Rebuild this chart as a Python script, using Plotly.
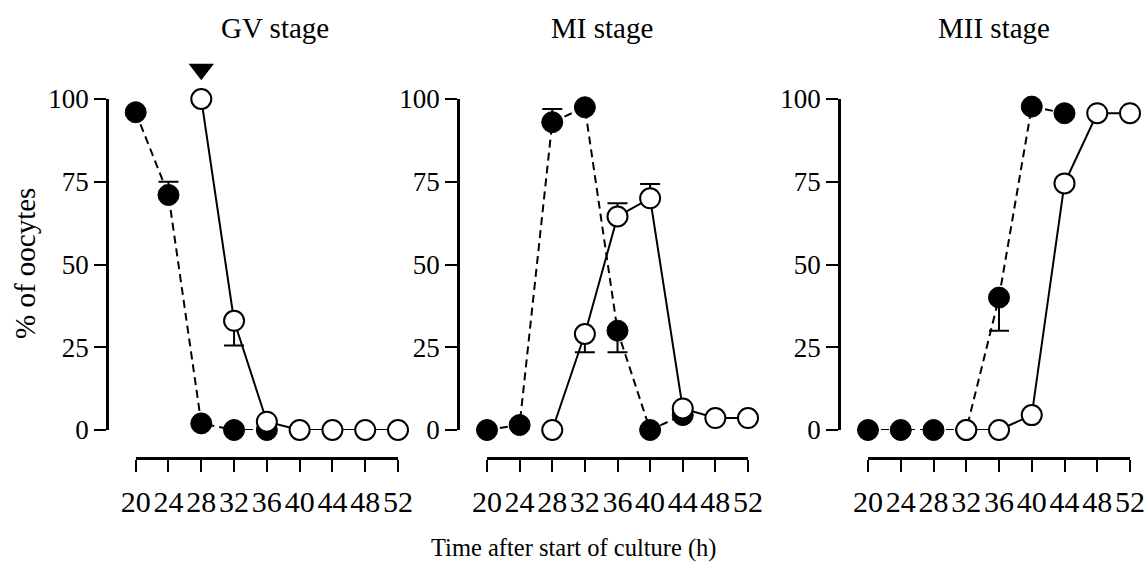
import plotly.graph_objects as go

W, H = 1148, 566

# ---------------- data ----------------
hours = [20, 24, 28, 32, 36, 40, 44, 48, 52]
y_ticks = [0, 25, 50, 75, 100]
panel_titles = ["GV stage", "MI stage", "MII stage"]
y_title = "% of oocytes"
x_title = "Time after start of culture (h)"

# GV stage
gv_filled_x = [20, 24, 28, 32, 36]
gv_filled_y = [96, 71, 2, 0, 0]
gv_filled_err_plus = [0, 4, 0, 0, 0]
gv_filled_err_minus = [0, 0, 0, 0, 0]
gv_open_x = [28, 32, 36, 40, 44, 48, 52]
gv_open_y = [100, 33, 2.5, 0, 0, 0, 0]
gv_open_err_plus = [0, 0, 0, 0, 0, 0, 0]
gv_open_err_minus = [0, 7.5, 0, 0, 0, 0, 0]
gv_arrow_x = [28]
gv_arrow_y = [109]

# MI stage
mi_filled_x = [20, 24, 28, 32, 36, 40, 44]
mi_filled_y = [0, 1.5, 93, 97.5, 30, 0, 4.5]
mi_filled_err_plus = [0, 0, 4, 0, 0, 0, 0]
mi_filled_err_minus = [0, 0, 0, 0, 6.5, 0, 0]
mi_open_x = [28, 32, 36, 40, 44, 48, 52]
mi_open_y = [0, 29, 64.5, 70, 6.5, 3.6, 3.6]
mi_open_err_plus = [0, 0, 4, 4.3, 0, 0, 0]
mi_open_err_minus = [0, 5.5, 0, 0, 0, 0, 0]

# MII stage
mii_filled_x = [20, 24, 28, 32, 36, 40, 44]
mii_filled_y = [0, 0, 0, 0, 40, 97.7, 95.7]
mii_filled_err_plus = [0, 0, 0, 0, 0, 0, 0]
mii_filled_err_minus = [0, 0, 0, 0, 10, 0, 0]
mii_open_x = [32, 36, 40, 44, 48, 52]
mii_open_y = [0, 0, 4.5, 74.5, 95.7, 95.7]
mii_open_err_plus = [0, 0, 0, 0, 0, 0]
mii_open_err_minus = [0, 0, 0, 0, 0, 0]

panels = [
    (gv_filled_x, gv_filled_y, gv_filled_err_plus, gv_filled_err_minus,
     gv_open_x, gv_open_y, gv_open_err_plus, gv_open_err_minus),
    (mi_filled_x, mi_filled_y, mi_filled_err_plus, mi_filled_err_minus,
     mi_open_x, mi_open_y, mi_open_err_plus, mi_open_err_minus),
    (mii_filled_x, mii_filled_y, mii_filled_err_plus, mii_filled_err_minus,
     mii_open_x, mii_open_y, mii_open_err_plus, mii_open_err_minus),
]

# ---------------- layout geometry (pixels) ----------------
x_dom_px = [(135.7, 398.0), (487.0, 748.0), (868.0, 1130.0)]
y_axis_px = [107, 458, 839]
title_px = [275, 602, 994]
title_y_px = 28
y0_px, y100_px = 430, 99
xaxis_line_px = 458
arrow_top_px = 60

FONT = "Liberation Serif"

fig = go.Figure()

def px_x(p):
    return p / W

def px_y(p):
    return 1 - p / H

layout = dict(
    width=W, height=H,
    margin=dict(l=0, r=0, t=0, b=0, pad=0, autoexpand=False),
    paper_bgcolor="white", plot_bgcolor="rgba(0,0,0,0)",
    showlegend=False,
    font=dict(family=FONT, color="black", size=26),
)

annotations = []
for i, (fx, fy, fep, fem, ox, oy, oep, oem) in enumerate(panels):
    n = "" if i == 0 else str(i + 1)
    xa = "x" + n
    ya = "y" + n
    fig.add_trace(go.Scatter(
        x=fx, y=fy, xaxis=xa, yaxis=ya, mode="lines+markers",
        line=dict(color="black", width=2, dash="8px,5px"),
        marker=dict(symbol="circle", size=21, color="black",
                    line=dict(color="black", width=1)),
        error_y=dict(type="data", symmetric=False, array=fep, arrayminus=fem,
                     color="black", thickness=2, width=10),
        cliponaxis=False,
    ))
    fig.add_trace(go.Scatter(
        x=ox, y=oy, xaxis=xa, yaxis=ya, mode="lines+markers",
        line=dict(color="black", width=2),
        marker=dict(symbol="circle", size=20, color="white",
                    line=dict(color="black", width=2)),
        error_y=dict(type="data", symmetric=False, array=oep, arrayminus=oem,
                     color="black", thickness=2, width=10),
        cliponaxis=False,
    ))
    xd = [px_x(x_dom_px[i][0]), px_x(x_dom_px[i][1])]
    yd = [px_y(y0_px), px_y(y100_px)]
    layout["xaxis" + n] = dict(
        domain=xd, range=[20, 52], anchor="free", position=px_y(xaxis_line_px),
        tickmode="array", tickvals=hours, ticktext=[str(h) for h in hours],
        ticks="outside", ticklen=12, tickwidth=2, tickcolor="black",
        showline=True, linewidth=2.5, linecolor="black",
        showgrid=False, zeroline=False, tickangle=0, automargin=False,
        tickfont=dict(family=FONT, size=30, color="black"),
        ticklabelstandoff=4,
    )
    layout["yaxis" + n] = dict(
        domain=yd, range=[0, 100], anchor="free", position=px_x(y_axis_px[i]),
        tickmode="array", tickvals=y_ticks, ticktext=[str(v) for v in y_ticks],
        ticks="outside", ticklen=12, tickwidth=2, tickcolor="black",
        showline=True, linewidth=2.5, linecolor="black",
        showgrid=False, zeroline=False, automargin=False,
        tickfont=dict(family=FONT, size=27, color="black"),
    )
    annotations.append(dict(
        text=panel_titles[i], x=px_x(title_px[i]), y=px_y(title_y_px),
        xref="paper", yref="paper", xanchor="center", yanchor="middle",
        showarrow=False, font=dict(family=FONT, size=29, color="black"),
    ))

# hidden axis sharing the GV x axis, extended upward so the arrow fits
arrow_ymax = 100 * (y0_px - arrow_top_px) / (y0_px - y100_px)
layout["yaxis4"] = dict(
    domain=[px_y(y0_px), px_y(arrow_top_px)], range=[0, arrow_ymax],
    anchor="x", visible=False, showgrid=False, zeroline=False,
)
fig.add_trace(go.Scatter(
    x=gv_arrow_x, y=gv_arrow_y, xaxis="x", yaxis="y4", mode="markers",
    marker=dict(symbol="triangle-down", size=22, color="black"),
    cliponaxis=False,
))

annotations.append(dict(
    text=y_title, x=px_x(25), y=px_y(264), xref="paper", yref="paper",
    xanchor="center", yanchor="middle", textangle=-90, showarrow=False,
    font=dict(family=FONT, size=29, color="black"),
))
annotations.append(dict(
    text=x_title, x=px_x(574), y=px_y(548), xref="paper", yref="paper",
    xanchor="center", yanchor="middle", showarrow=False,
    font=dict(family=FONT, size=24.5, color="black"),
))
layout["annotations"] = annotations

fig.update_layout(**layout)
fig.write_html(
    "out.html",
    config={"displayModeBar": False},
    post_script="document.body.style.margin='0px';document.body.style.overflow='hidden';",
)
